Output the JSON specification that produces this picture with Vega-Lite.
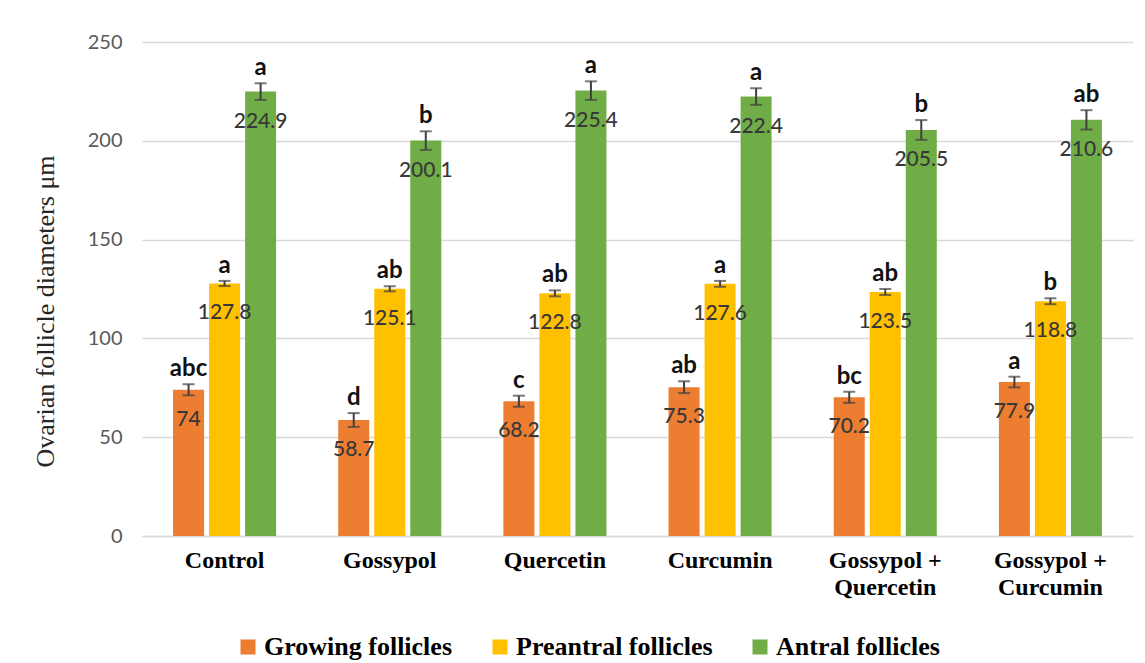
{
  "$schema": "https://vega.github.io/schema/vega-lite/v6.json",
  "width": 991,
  "height": 494,
  "autosize": {"type": "none"},
  "padding": {"left": 142, "top": 42, "right": 12, "bottom": 127},
  "background": "white",
  "config": {"view": {"stroke": null}},
  "data": {
    "values": [
      {"group": "Control", "series": "Growing follicles", "value": 74, "lo": 71.2, "hi": 76.8, "letter": "abc"},
      {"group": "Control", "series": "Preantral follicles", "value": 127.8, "lo": 126.5, "hi": 129.1, "letter": "a"},
      {"group": "Control", "series": "Antral follicles", "value": 224.9, "lo": 220.7, "hi": 229.1, "letter": "a"},
      {"group": "Gossypol", "series": "Growing follicles", "value": 58.7, "lo": 55.2, "hi": 62.2, "letter": "d"},
      {"group": "Gossypol", "series": "Preantral follicles", "value": 125.1, "lo": 123.8, "hi": 126.4, "letter": "ab"},
      {"group": "Gossypol", "series": "Antral follicles", "value": 200.1, "lo": 195.4, "hi": 204.8, "letter": "b"},
      {"group": "Quercetin", "series": "Growing follicles", "value": 68.2, "lo": 65.4, "hi": 71.0, "letter": "c"},
      {"group": "Quercetin", "series": "Preantral follicles", "value": 122.8, "lo": 121.3, "hi": 124.3, "letter": "ab"},
      {"group": "Quercetin", "series": "Antral follicles", "value": 225.4, "lo": 220.7, "hi": 230.1, "letter": "a"},
      {"group": "Curcumin", "series": "Growing follicles", "value": 75.3, "lo": 72.3, "hi": 78.3, "letter": "ab"},
      {"group": "Curcumin", "series": "Preantral follicles", "value": 127.6, "lo": 126.1, "hi": 129.1, "letter": "a"},
      {"group": "Curcumin", "series": "Antral follicles", "value": 222.4, "lo": 218.2, "hi": 226.6, "letter": "a"},
      {"group": "Gossypol +\nQuercetin", "series": "Growing follicles", "value": 70.2, "lo": 67.4, "hi": 73.0, "letter": "bc"},
      {"group": "Gossypol +\nQuercetin", "series": "Preantral follicles", "value": 123.5, "lo": 122.0, "hi": 125.0, "letter": "ab"},
      {"group": "Gossypol +\nQuercetin", "series": "Antral follicles", "value": 205.5, "lo": 200.5, "hi": 210.5, "letter": "b"},
      {"group": "Gossypol +\nCurcumin", "series": "Growing follicles", "value": 77.9, "lo": 75.2, "hi": 80.6, "letter": "a"},
      {"group": "Gossypol +\nCurcumin", "series": "Preantral follicles", "value": 118.8, "lo": 117.3, "hi": 120.3, "letter": "b"},
      {"group": "Gossypol +\nCurcumin", "series": "Antral follicles", "value": 210.6, "lo": 205.7, "hi": 215.5, "letter": "ab"}
    ]
  },
  "encoding": {
    "x": {
      "field": "group",
      "type": "nominal",
      "sort": null,
      "scale": {"paddingInner": 0.376, "paddingOuter": 0.188},
      "axis": {
        "title": null,
        "labelAngle": 0,
        "labelExpr": "split(datum.label, '\\n')",
        "labelFont": "Liberation Serif",
        "labelFontWeight": "bold",
        "labelFontSize": 24,
        "labelColor": "#000000",
        "labelPadding": 12,
        "labelLineHeight": 27,
        "labelBaseline": "top",
        "ticks": false,
        "domain": true,
        "domainColor": "#d9d9d9",
        "domainWidth": 1.5
      }
    },
    "xOffset": {
      "field": "series",
      "type": "nominal",
      "sort": ["Growing follicles", "Preantral follicles", "Antral follicles"],
      "scale": {"paddingInner": 0.139, "paddingOuter": 0}
    }
  },
  "layer": [
    {
      "mark": {"type": "bar"},
      "encoding": {
        "y": {
          "field": "value",
          "type": "quantitative",
          "scale": {"domain": [0, 250], "nice": false},
          "axis": {
            "values": [0, 50, 100, 150, 200, 250],
            "title": "Ovarian follicle diameters μm",
            "titleFont": "Liberation Serif",
            "titleFontWeight": "normal",
            "titleFontSize": 26,
            "titleColor": "#262626",
            "titleAngle": -90,
            "titleX": -97,
            "titleY": 269,
            "titleAlign": "center",
            "titleBaseline": "middle",
            "labelFont": "Lato",
            "labelFontSize": 20,
            "labelColor": "#595959",
            "labelPadding": 20,
            "ticks": false,
            "domain": false,
            "grid": true,
            "gridColor": "#d9d9d9",
            "gridWidth": 1.5
          }
        },
        "color": {
          "field": "series",
          "type": "nominal",
          "scale": {
            "domain": ["Growing follicles", "Preantral follicles", "Antral follicles"],
            "range": ["#ED7D31", "#FFC000", "#70AD47"]
          },
          "legend": {
            "title": null,
            "orient": "none",
            "direction": "horizontal",
            "legendX": 93,
            "legendY": 592,
            "symbolType": "square",
            "symbolSize": 225,
            "symbolStrokeWidth": 0,
            "symbolOpacity": 1,
            "labelFont": "Liberation Serif",
            "labelFontWeight": "bold",
            "labelFontSize": 26,
            "labelColor": "#000000",
            "labelOffset": 3,
            "columnPadding": 34,
            "labelLimit": 400
          }
        }
      }
    },
    {
      "mark": {"type": "rule", "color": "#404040", "strokeWidth": 2},
      "encoding": {
        "y": {"field": "lo", "type": "quantitative"},
        "y2": {"field": "hi"}
      }
    },
    {
      "mark": {"type": "tick", "color": "#404040", "thickness": 2, "size": 12},
      "encoding": {
        "y": {"field": "lo", "type": "quantitative"}
      }
    },
    {
      "mark": {"type": "tick", "color": "#404040", "thickness": 2, "size": 12},
      "encoding": {
        "y": {"field": "hi", "type": "quantitative"}
      }
    },
    {
      "mark": {"type": "text", "font": "Lato", "fontSize": 21, "fontWeight": 500, "color": "#383838", "baseline": "middle", "dy": 30},
      "encoding": {
        "y": {"field": "value", "type": "quantitative"},
        "text": {"field": "value", "type": "quantitative"}
      }
    },
    {
      "mark": {"type": "text", "font": "Lato", "fontSize": 24, "fontWeight": "bold", "color": "#111111", "baseline": "alphabetic", "dy": -8},
      "encoding": {
        "y": {"field": "hi", "type": "quantitative"},
        "text": {"field": "letter", "type": "nominal"}
      }
    }
  ]
}
